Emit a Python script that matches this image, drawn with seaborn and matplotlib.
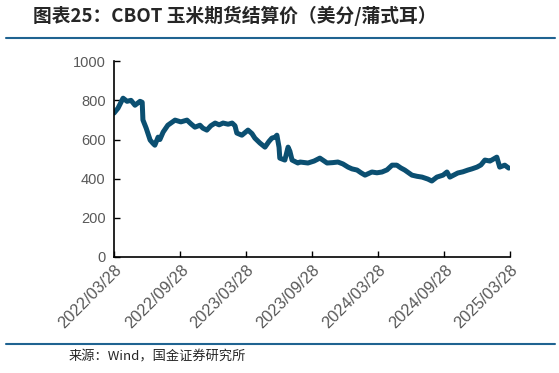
import pandas as pd
import matplotlib.pyplot as plt
import matplotlib.dates as mdates
import seaborn as sns


dates = [
    "2022-03-28", "2022-04-08", "2022-04-22", "2022-05-03", "2022-05-14", "2022-05-25",
    "2022-06-08", "2022-06-14", "2022-06-16", "2022-06-25", "2022-07-06", "2022-07-14",
    "2022-07-19", "2022-07-28", "2022-08-02", "2022-08-11", "2022-08-24", "2022-09-13",
    "2022-09-29", "2022-10-16", "2022-10-27", "2022-11-07", "2022-11-21", "2022-11-29",
    "2022-12-10", "2022-12-21", "2023-01-02", "2023-01-13", "2023-01-24", "2023-02-07",
    "2023-02-18", "2023-02-26", "2023-03-03", "2023-03-17", "2023-04-03", "2023-04-14",
    "2023-04-22", "2023-05-06", "2023-05-20", "2023-05-31", "2023-06-08", "2023-06-17",
    "2023-06-22", "2023-06-28", "2023-06-30", "2023-07-14", "2023-07-23", "2023-07-28",
    "2023-08-03", "2023-08-19", "2023-08-25", "2023-09-16", "2023-10-03", "2023-10-19",
    "2023-11-08", "2023-11-24", "2023-12-08", "2023-12-22", "2024-01-05", "2024-01-16",
    "2024-01-30", "2024-02-10", "2024-02-21", "2024-03-11", "2024-03-25", "2024-04-08",
    "2024-04-22", "2024-05-06", "2024-05-19", "2024-05-30", "2024-06-10", "2024-06-30",
    "2024-07-14", "2024-07-28", "2024-08-13", "2024-08-24", "2024-09-07", "2024-09-24",
    "2024-10-05", "2024-10-13", "2024-11-04", "2024-11-18", "2024-12-02", "2024-12-13",
    "2024-12-27", "2025-01-07", "2025-01-18", "2025-02-01", "2025-02-06", "2025-02-20",
    "2025-02-28", "2025-03-14", "2025-03-25",
]

price = [
    735, 760, 811, 795, 800, 775,
    795, 790, 700, 658, 597, 580,
    571, 612, 600, 638, 673, 699,
    690, 699, 680, 663, 673, 658,
    648, 670, 684, 675, 684, 678,
    684, 670, 633, 622, 648, 630,
    607, 582, 561, 590, 607, 612,
    622, 560, 505, 495, 561, 540,
    495, 480, 485, 480, 490, 505,
    480, 482, 485, 475, 459, 450,
    444, 430, 418, 434, 430, 434,
    445, 469, 469, 455, 444, 418,
    412, 408, 398, 388, 408, 418,
    434, 408, 429, 435, 444, 450,
    459, 470, 495, 490, 495, 510,
    459, 469, 454,
]

tick_dates = ["2022-03-28", "2022-09-28", "2023-03-28", "2023-09-28",
              "2024-03-28", "2024-09-28", "2025-03-28"]

df = pd.DataFrame({"date": pd.to_datetime(dates), "price": price})

sns.set_style("ticks")
plt.rcParams["font.family"] = ["Liberation Sans", "Noto Sans CJK SC", "DejaVu Sans"]

fig = plt.figure(figsize=(5.59, 3.73), dpi=100)
ax = fig.add_axes([0.204, 0.311, 0.708, 0.525])

sns.lineplot(data=df, x="date", y="price", ax=ax, color="#0B4F71", linewidth=3.6)

ax.set_xlim(pd.Timestamp(tick_dates[0]), pd.Timestamp(tick_dates[-1]))
ax.set_ylim(0, 1000)
ax.set_yticks([0, 200, 400, 600, 800, 1000])
ax.set_xticks(pd.to_datetime(tick_dates))
ax.xaxis.set_major_formatter(mdates.DateFormatter("%Y/%m/%d"))
ax.set_xlabel("")
ax.set_ylabel("")

ax.tick_params(axis="both", direction="in", length=4, width=1, colors="black",
               labelcolor="#595959", labelsize=10.5)
ax.tick_params(axis="y", pad=6)
ax.tick_params(axis="x", labelsize=11.8, pad=4)
for lab in ax.get_xticklabels():
    lab.set_rotation(45)
    lab.set_ha("right")
    lab.set_rotation_mode("anchor")

for s in ["top", "right"]:
    ax.spines[s].set_visible(False)
for s in ["left", "bottom"]:
    ax.spines[s].set_linewidth(1.2)
    ax.spines[s].set_color("black")

fig.text(0.059, 0.958, "图表25：CBOT 玉米期货结算价（美分/蒲式耳）",
         fontsize=13.5, fontweight="bold", style="italic", va="center", ha="left",
         family=["Noto Sans CJK SC", "DejaVu Sans"])
fig.add_artist(plt.Line2D([0.01, 0.993], [0.899, 0.899], color="#1F6391", linewidth=1.5))
fig.add_artist(plt.Line2D([0.01, 0.993], [0.078, 0.078], color="#1F6391", linewidth=1.5))
fig.text(0.123, 0.043, "来源：Wind，国金证券研究所", fontsize=9.5, va="center", ha="left",
         family=["Noto Sans CJK SC", "DejaVu Sans"])

plt.savefig("out.png", dpi=100)
